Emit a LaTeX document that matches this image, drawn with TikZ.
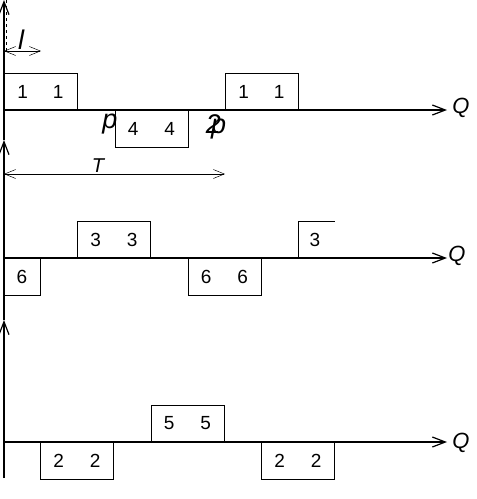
\documentclass[tikz,border=0pt]{standalone}
\usepackage{fontspec}
\setmainfont{Liberation Sans}
\usetikzlibrary{arrows.meta}
\begin{document}
\begin{tikzpicture}[x=1pt,y=-1pt,
  box/.style={draw, line width=0.8pt, minimum width=73pt, minimum height=37pt, inner sep=0pt, font=\fontsize{19}{19}\selectfont},
  digit/.style={inner sep=0pt, font=\fontsize{19}{19}\selectfont},
  axisline/.style={line width=1.4pt, -{Straight Barb[length=13pt,width=10pt,line width=1.2pt]}},
  lbl/.style={font=\fontsize{22}{22}\selectfont\itshape, inner sep=0pt},
  biglbl/.style={font=\fontsize{27}{27}\selectfont\itshape, inner sep=0pt},
  dimline/.style={line width=0.5pt, {Straight Barb[length=11pt,width=9pt]}-{Straight Barb[length=11pt,width=9pt]}}]
\useasboundingbox (0,0) rectangle (477,499);
% vertical axis
\coordinate (vb) at (4,478);
\coordinate (v3) at (4,320);
\coordinate (v2) at (4,140);
\coordinate (v1) at (4,0);
\draw[axisline] (vb) -- (v3);
\draw[axisline] (v3) -- (v2);
\draw[axisline] (v2) -- (v1);
% horizontal axes
\coordinate (a1s) at (4,110); \coordinate (a1e) at (447,110);
\coordinate (a2s) at (4,258); \coordinate (a2e) at (447,258);
\coordinate (a3s) at (4,442); \coordinate (a3e) at (447,442);
\draw[axisline] (a1s) -- (a1e);
\draw[axisline] (a2s) -- (a2e);
\draw[axisline] (a3s) -- (a3e);
\node[lbl] (q1) at (461,108) {Q};
\node[lbl] (q2) at (457,256) {Q};
\node[lbl] (q3) at (461,443) {Q};
% row 1 boxes
\node[box] (b11) at (40.5,91.5) {1\hspace{25pt}1};
\node[box] (b14) at (151.5,128.5) {4\hspace{26pt}4};
\node[box] (b12) at (261.5,91.5) {1\hspace{25pt}1};
\node[biglbl] (p1) at (110,124) {p};
\node[biglbl] (p2) at (216,127) {2\kern-10pt p};
% l dimension
\coordinate (ld0) at (6,0);
\coordinate (ld1) at (6,51);
\draw[dashed, line width=0.6pt] (ld0) -- (ld1);
\coordinate (l0) at (4,51); \coordinate (l1) at (41,51);
\draw[dimline] (l0) -- (l1);
\node[biglbl] (ll) at (21,40) {l};
% T dimension
\coordinate (t0) at (4,174); \coordinate (t1) at (225,174);
\draw[dimline] (t0) -- (t1);
\node[lbl, font=\fontsize{20}{20}\selectfont\itshape] (tl) at (98,166) {T};
% row 2 boxes
\node[box, minimum width=36pt] (b26) at (22,276.5) {6};
\node[box] (b23) at (114,239.5) {3\hspace{26pt}3};
\node[box] (b266) at (224.5,276.5) {6\hspace{26pt}6};
\coordinate (c0) at (298,258); \coordinate (c1) at (298,221); \coordinate (c2) at (335,221);
\draw[line width=0.8pt] (c0) -- (c1) -- (c2);
\node[digit] (d3) at (315,240) {3};
% row 3 boxes
\node[box] (b32) at (77,460.5) {2\hspace{26pt}2};
\node[box] (b35) at (187.5,423.5) {5\hspace{26pt}5};
\node[box] (b322) at (298,460.5) {2\hspace{26pt}2};
\end{tikzpicture}
\end{document}
